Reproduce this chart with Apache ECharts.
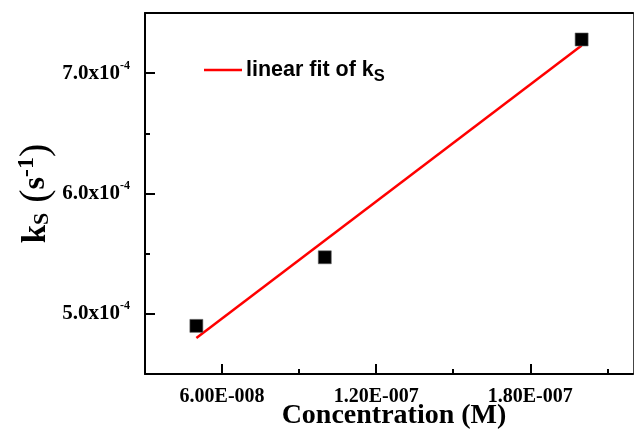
<!DOCTYPE html>
<html>
<head>
<meta charset="utf-8">
<script src="https://cdn.jsdelivr.net/npm/echarts@6/dist/echarts.min.js"></script>
<style>
html,body{margin:0;padding:0;background:#fff;}
#c{width:634px;height:433px;}
</style>
</head>
<body>
<div id="c"></div>
<script>
// ---- data ----
var X_DATA = [5.0e-8, 1.0e-7, 2.0e-7];
var Y_DATA = [4.90e-4, 5.47e-4, 7.28e-4];
var FIT_X = [5.0e-8, 2.0e-7];
var FIT_Y = [4.80e-4, 7.23e-4];

var X_MIN = 3e-8, X_MAX = 2.2e-7;
var X_MAJOR = [6e-8, 1.2e-7, 1.8e-7];
var X_MAJOR_LABELS = ['6.00E-008', '1.20E-007', '1.80E-007'];
var X_MINOR = [9e-8, 1.5e-7, 2.1e-7];

var Y_MIN = 4.5e-4, Y_MAX = 7.5e-4;
var Y_MAJOR = [5e-4, 6e-4, 7e-4];
var Y_MAJOR_LABELS = ['5.0x10', '6.0x10', '7.0x10'];
var Y_EXP = '-4';
var Y_MINOR = [5.5e-4, 6.5e-4];

var SERIF = '"Times New Roman", "Liberation Serif", serif';
var SANS = 'Arial, "Liberation Sans", sans-serif';

function findLabel(vals, labels, v) {
  for (var i = 0; i < vals.length; i++) {
    if (Math.abs(vals[i] - v) < Math.abs(vals[i]) * 1e-6) return labels[i];
  }
  return '';
}

var chart = echarts.init(document.getElementById('c'), null, {renderer: 'canvas'});
var black = '#000';

var option = {
  animation: false,
  backgroundColor: '#fff',
  grid: {left: 145, top: 13, right: 1, bottom: 59, containLabel: false, outerBoundsMode: 'none'},
  legend: {
    left: 204, top: 59, padding: 0,
    icon: 'rect', itemWidth: 38, itemHeight: 2.5, itemGap: 0,
    data: ['fit'],
    formatter: function () { return '{t|linear fit of k}{sub|S}'; },
    textStyle: {
      padding: [0, 0, 0, -1],
      rich: {
        t: {fontFamily: SANS, fontWeight: 'bold', fontSize: 21.5, color: '#000'},
        sub: {fontFamily: SANS, fontWeight: 'bold', fontSize: 16.5, color: '#000', padding: [12, 0, 0, 0]}
      }
    }
  },
  xAxis: [
    {
      type: 'value', min: X_MIN, max: X_MAX, position: 'bottom',
      axisLine: {show: true, onZero: false, lineStyle: {color: black, width: 2}},
      axisTick: {show: true, inside: true, length: 10, customValues: X_MAJOR, lineStyle: {color: black, width: 2}},
      axisLabel: {
        customValues: X_MAJOR, margin: 13,
        fontFamily: SERIF, fontWeight: 'bold', fontSize: 20, color: '#000',
        formatter: function (v) { return findLabel(X_MAJOR, X_MAJOR_LABELS, v); }
      },
      splitLine: {show: false},
      name: 'Concentration (M)', nameLocation: 'middle', nameGap: 28, nameMoveOverlap: false,
      nameTextStyle: {fontFamily: SERIF, fontWeight: 'bold', fontSize: 28, color: '#000', padding: [0, 0, 0, 10]}
    },
    {
      type: 'value', min: X_MIN, max: X_MAX, position: 'bottom',
      axisLine: {show: false},
      axisTick: {show: true, inside: true, length: 5, customValues: X_MINOR, lineStyle: {color: black, width: 2}},
      axisLabel: {show: false},
      splitLine: {show: false}
    },
    {
      type: 'value', min: X_MIN, max: X_MAX, position: 'top',
      axisLine: {show: true, onZero: false, lineStyle: {color: black, width: 2}},
      axisTick: {show: false}, axisLabel: {show: false}, splitLine: {show: false}
    }
  ],
  yAxis: [
    {
      type: 'value', min: Y_MIN, max: Y_MAX, position: 'left',
      axisLine: {show: true, onZero: false, lineStyle: {color: black, width: 2}},
      axisTick: {show: true, inside: true, length: 10, customValues: Y_MAJOR, lineStyle: {color: black, width: 2}},
      axisLabel: {
        customValues: Y_MAJOR, margin: 15,
        formatter: function (v) {
          var l = findLabel(Y_MAJOR, Y_MAJOR_LABELS, v);
          return l ? '{m|' + l + '}{e|' + Y_EXP + '}' : '';
        },
        rich: {
          m: {fontFamily: SERIF, fontWeight: 'bold', fontSize: 21, color: '#000'},
          e: {fontFamily: SERIF, fontWeight: 'bold', fontSize: 12, color: '#000', padding: [0, 0, 15, 0]}
        }
      },
      splitLine: {show: false},
      name: '{k|k}{sub|S}{p| (}{s|s}{sup|-1}{p|)}',
      nameLocation: 'middle', nameRotate: 90, nameGap: 88, nameMoveOverlap: false,
      nameTextStyle: {
        padding: [0, 0, 0, 0],
        rich: {
          k: {fontFamily: SERIF, fontWeight: 'bold', fontSize: 33, color: '#000'},
          sub: {fontFamily: SERIF, fontWeight: 'bold', fontSize: 22, color: '#000', padding: [12, 0, 0, 0]},
          p: {fontFamily: SERIF, fontWeight: 'normal', fontSize: 40, color: '#000'},
          s: {fontFamily: SERIF, fontWeight: 'bold', fontSize: 32, color: '#000'},
          sup: {fontFamily: SERIF, fontWeight: 'bold', fontSize: 24, color: '#000', padding: [0, 0, 18, 0]}
        }
      }
    },
    {
      type: 'value', min: Y_MIN, max: Y_MAX, position: 'left',
      axisLine: {show: false},
      axisTick: {show: true, inside: true, length: 5, customValues: Y_MINOR, lineStyle: {color: black, width: 2}},
      axisLabel: {show: false},
      splitLine: {show: false}
    },
    {
      type: 'value', min: Y_MIN, max: Y_MAX, position: 'right',
      axisLine: {show: true, onZero: false, lineStyle: {color: '#444', width: 1}},
      axisTick: {show: false}, axisLabel: {show: false}, splitLine: {show: false}
    }
  ],
  series: [
    {
      name: 'fit', type: 'line', xAxisIndex: 0, yAxisIndex: 0,
      data: FIT_X.map(function (x, i) { return [x, FIT_Y[i]]; }),
      showSymbol: false, symbol: 'none',
      lineStyle: {color: '#ff0000', width: 2.5},
      itemStyle: {color: '#ff0000'},
      z: 2
    },
    {
      name: 'data', type: 'scatter', xAxisIndex: 0, yAxisIndex: 0,
      data: X_DATA.map(function (x, i) { return [x, Y_DATA[i]]; }),
      symbol: 'rect', symbolSize: 13,
      itemStyle: {color: '#000', borderColor: '#666', borderWidth: 0.6, opacity: 1},
      z: 3
    }
  ]
};
chart.setOption(option);
</script>
</body>
</html>
